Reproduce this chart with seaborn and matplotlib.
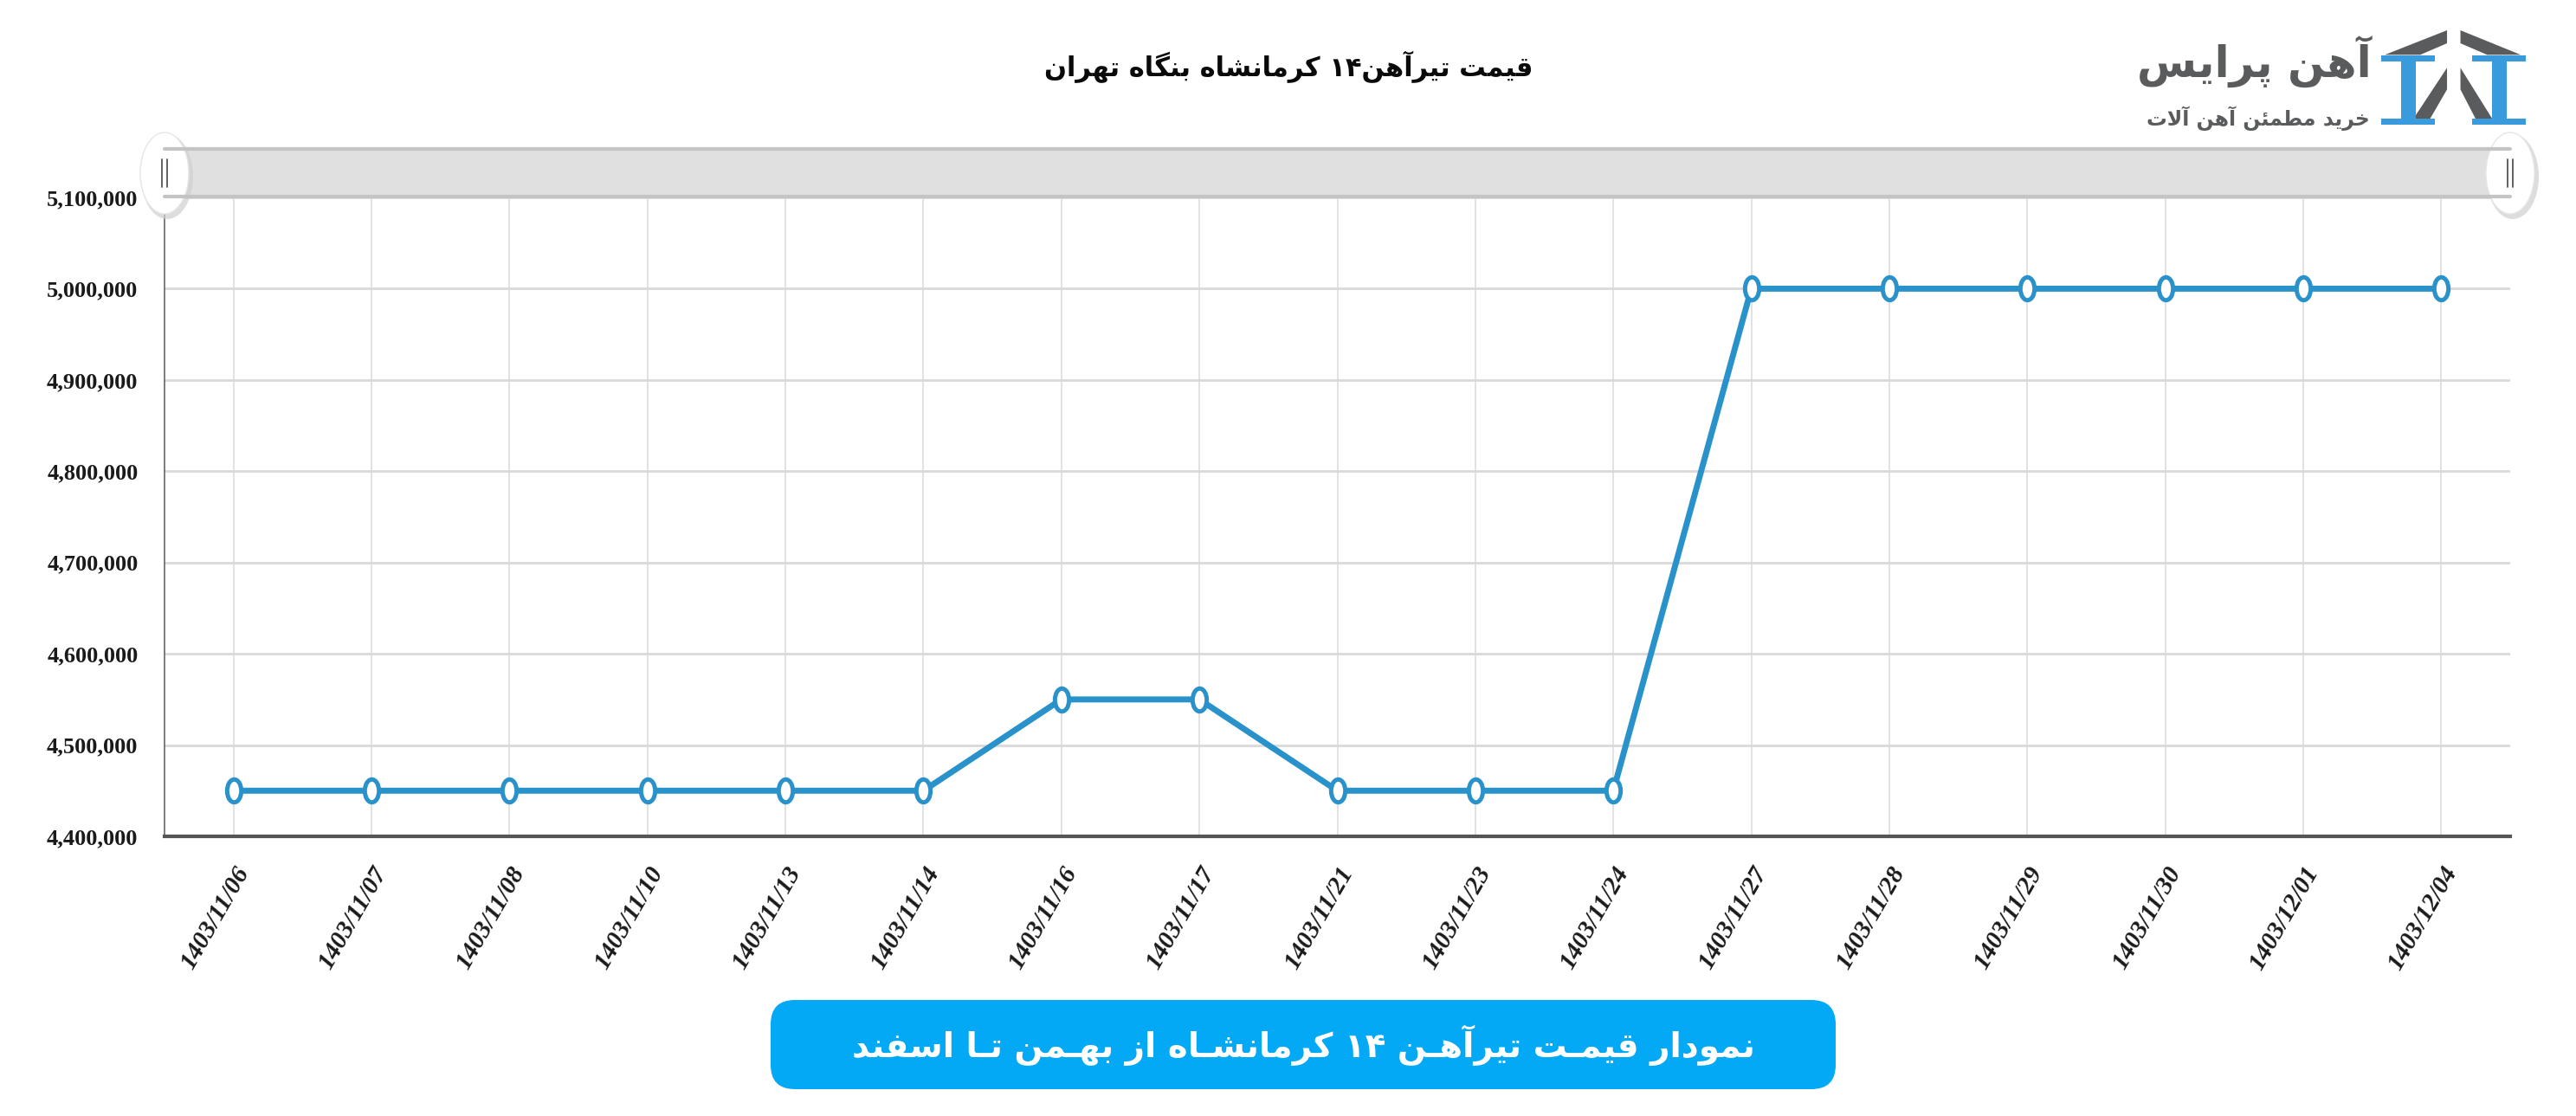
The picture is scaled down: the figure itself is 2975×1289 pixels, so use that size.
import re
import numpy as np
import pandas as pd
import seaborn as sns
import matplotlib
matplotlib.use("Agg")
import matplotlib.pyplot as plt
from matplotlib.path import Path
from matplotlib.patches import Rectangle, Ellipse, FancyBboxPatch, Polygon
from matplotlib.ticker import FuncFormatter

# chart data
dates = ['1403/11/06', '1403/11/07', '1403/11/08', '1403/11/10', '1403/11/13',
         '1403/11/14', '1403/11/16', '1403/11/17', '1403/11/21', '1403/11/23',
         '1403/11/24', '1403/11/27', '1403/11/28', '1403/11/29', '1403/11/30',
         '1403/12/01', '1403/12/04']
prices = [4450000, 4450000, 4450000, 4450000, 4450000,
          4450000, 4550000, 4550000, 4450000, 4450000,
          4450000, 5000000, 5000000, 5000000, 5000000,
          5000000, 5000000]
y_ticks = [4400000, 4500000, 4600000, 4700000, 4800000, 4900000, 5000000, 5100000]

title_text = 'قیمت تیرآهن۱۴ کرمانشاه بنگاه تهران'
banner_text = 'نمودار قیمـت تیرآهـن ۱۴ کرمانشـاه از بهـمن تـا اسفند'
logo_text = 'آهن پرایس'
logo_sub = 'خرید مطمئن آهن آلات'

# minimal arabic/persian shaping (matplotlib has no shaping of its own)
FORMS = {
    'ا': ('\uFE8D', '\uFE8E', None, None),
    'آ': ('\uFE81', '\uFE82', None, None),
    'ب': ('\uFE8F', '\uFE90', '\uFE91', '\uFE92'),
    'پ': ('\uFB56', '\uFB57', '\uFB58', '\uFB59'),
    'ت': ('\uFE95', '\uFE96', '\uFE97', '\uFE98'),
    'خ': ('\uFEA5', '\uFEA6', '\uFEA7', '\uFEA8'),
    'د': ('\uFEA9', '\uFEAA', None, None),
    'ر': ('\uFEAD', '\uFEAE', None, None),
    'ز': ('\uFEAF', '\uFEB0', None, None),
    'س': ('\uFEB1', '\uFEB2', '\uFEB3', '\uFEB4'),
    'ش': ('\uFEB5', '\uFEB6', '\uFEB7', '\uFEB8'),
    'ط': ('\uFEC1', '\uFEC2', '\uFEC3', '\uFEC4'),
    'ف': ('\uFED1', '\uFED2', '\uFED3', '\uFED4'),
    'ق': ('\uFED5', '\uFED6', '\uFED7', '\uFED8'),
    'ک': ('\uFB8E', '\uFB8F', '\uFB90', '\uFB91'),
    'گ': ('\uFB92', '\uFB93', '\uFB94', '\uFB95'),
    'ل': ('\uFEDD', '\uFEDE', '\uFEDF', '\uFEE0'),
    'م': ('\uFEE1', '\uFEE2', '\uFEE3', '\uFEE4'),
    'ن': ('\uFEE5', '\uFEE6', '\uFEE7', '\uFEE8'),
    'ه': ('\uFEE9', '\uFEEA', '\uFEEB', '\uFEEC'),
    'و': ('\uFEED', '\uFEEE', None, None),
    'ی': ('\uFBFC', '\uFBFD', '\uFBFE', '\uFBFF'),
    'ئ': ('\uFE89', '\uFE8A', '\uFE8B', '\uFE8C'),
    'ـ': ('ـ', 'ـ', 'ـ', 'ـ'),
}
LAM_ALEF = {'ا': ('\uFEFB', '\uFEFC'), 'آ': ('\uFEF5', '\uFEF6')}


def fa(text):
    out = []
    i = 0
    n = len(text)
    while i < n:
        c = text[i]
        prev = text[i - 1] if i > 0 else None
        nxt = text[i + 1] if i + 1 < n else None
        joins_prev = prev in FORMS and FORMS[prev][2] is not None
        if c not in FORMS:
            out.append(c)
            i += 1
            continue
        if c == 'ل' and nxt in LAM_ALEF:
            out.append(LAM_ALEF[nxt][1 if joins_prev else 0])
            i += 2
            continue
        joins_next = FORMS[c][2] is not None and nxt in FORMS
        iso, fin, ini, med = FORMS[c]
        if joins_prev and joins_next:
            out.append(med)
        elif joins_prev:
            out.append(fin)
        elif joins_next:
            out.append(ini)
        else:
            out.append(iso)
        i += 1
    s = ''.join(out)[::-1]
    # digits stay left to right
    return re.sub(r'[0-9\u06F0-\u06F9]+', lambda m: m.group(0)[::-1], s)


df = pd.DataFrame({'date': dates, 'price': prices})

sns.set_theme(style='white')
plt.rcParams['font.family'] = ['DejaVu Sans']

W, H = 2975, 1289
fig = plt.figure(figsize=(W / 100, H / 100), dpi=100)
ax = fig.add_axes([190 / W, 1 - 966 / H, (2899 - 190) / W, (966 - 228) / H])

line_color = '#2A92CA'
# tall oval marker
circ = Path.unit_circle()
oval = Path(circ.vertices * np.array([0.62, 1.0]), circ.codes)

sns.lineplot(data=df, x='date', y='price', ax=ax, color=line_color, linewidth=5,
             marker=oval, markersize=19, markerfacecolor='white',
             markeredgecolor=line_color, markeredgewidth=3.6, sort=False)

ax.set_xlim(-0.5, len(dates) - 0.5)
ax.set_ylim(y_ticks[0], y_ticks[-1])
ax.set_yticks(y_ticks)
ax.yaxis.set_major_formatter(FuncFormatter(lambda v, p: f'{int(v):,}'))
ax.set_xticks(range(len(dates)))
ax.set_xticklabels(dates, rotation=60, ha='right', rotation_mode='anchor')
ax.set_xlabel('')
ax.set_ylabel('')

ax.grid(True, axis='y', color='#D9D9D9', linewidth=2.0)
ax.grid(True, axis='x', color='#E2E2E2', linewidth=1.4)
ax.set_axisbelow(True)
for side in ['top', 'right']:
    ax.spines[side].set_visible(False)
ax.spines['left'].set_color('#666666')
ax.spines['left'].set_linewidth(1.2)
ax.spines['bottom'].set_color('#555555')
ax.spines['bottom'].set_linewidth(3.0)
ax.tick_params(axis='x', direction='out', length=14, width=1.2, color='#777777', pad=8)
ax.tick_params(axis='y', direction='out', length=8, width=1.2, color='#777777', pad=14)
for lab in ax.get_yticklabels():
    lab.set_fontsize(19)
for lab in ax.get_xticklabels():
    lab.set_fontsize(21)
    lab.set_fontstyle('italic')
for lab in ax.get_xticklabels() + ax.get_yticklabels():
    lab.set_fontfamily('Liberation Serif')
    lab.set_fontweight('bold')
    lab.set_color('#1a1a1a')

# overlay in pixel coordinates for the decorations
ov = fig.add_axes([0, 0, 1, 1], zorder=5)
ov.set_xlim(0, W)
ov.set_ylim(H, 0)
ov.axis('off')
ov.patch.set_alpha(0)

# range slider band above the plot
ov.add_patch(Rectangle((190, 171), 2899 - 190, 57, facecolor='#E0E0E0', edgecolor='none'))
ov.plot([190, 2899], [172, 172], color='#C4C4C4', linewidth=3)
ov.plot([190, 2899], [227, 227], color='#C4C4C4', linewidth=3)
for hx in [190, 2899]:
    ov.add_patch(Ellipse((hx + 3, 204), 60, 98, facecolor='#CFCFCF', edgecolor='none', alpha=0.7))
    ov.add_patch(Ellipse((hx, 200), 56, 94, facecolor='white', edgecolor='#E6E6E6', linewidth=1))
    for dx in (-3, 3):
        ov.plot([hx + dx, hx + dx], [184, 216], color='#555555', linewidth=1.3)

# title
ov.text(1488, 77, fa(title_text), ha='center', va='center', fontsize=22,
        fontweight='bold', color='#0a0a0a')

# logo
def zc(pts):
    return [(2300 + x / 2.323, y / 3.0) for x, y in pts]

grey = '#5A5B5D'
blue = '#3A9BDC'
for poly in [
    [(1055, 190), (1222, 105), (1222, 150), (1150, 190)],
    [(1258, 105), (1420, 190), (1330, 190), (1258, 150)],
    [(1130, 415), (1222, 235), (1222, 310), (1175, 415)],
    [(1258, 235), (1345, 415), (1300, 415), (1258, 310)],
]:
    ov.add_patch(Polygon(zc(poly), closed=True, facecolor=grey, edgecolor='none'))
for cx in (1118, 1362):
    ov.add_patch(Polygon(zc([(cx - 72, 193), (cx + 72, 193), (cx + 72, 212), (cx + 20, 212),
                             (cx + 20, 412), (cx + 72, 412), (cx + 72, 432), (cx - 72, 432),
                             (cx - 72, 412), (cx - 20, 412), (cx - 20, 212), (cx - 72, 212)]),
                         closed=True, facecolor=blue, edgecolor='none'))
ov.text(2739, 72, fa(logo_text), ha='right', va='center', fontsize=36,
        fontweight='bold', color=grey)
ov.text(2737, 137, fa(logo_sub), ha='right', va='center', fontsize=17,
        fontweight='bold', color=grey)

# bottom banner
ov.add_patch(FancyBboxPatch((890 + 28, 1155 + 28), 1230 - 56, 103 - 56,
                            boxstyle='round,pad=28', facecolor='#03A9F4', edgecolor='none'))
ov.text(1505, 1207, fa(banner_text), ha='center', va='center', fontsize=28,
        fontweight='bold', color='white')

fig.savefig('out.png', dpi=100, facecolor='white')
